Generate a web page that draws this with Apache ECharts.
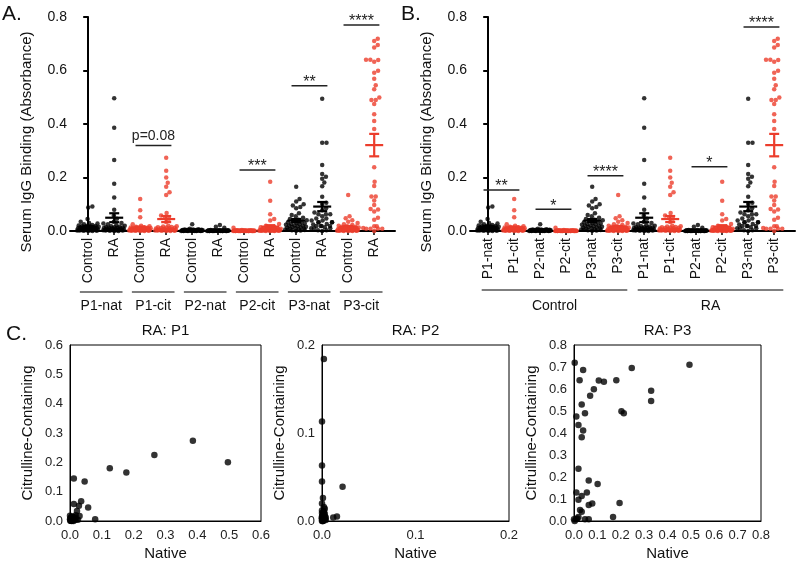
<!DOCTYPE html>
<html><head><meta charset="utf-8">
<script src="https://cdn.jsdelivr.net/npm/echarts@6/dist/echarts.min.js"></script>
<style>html,body{margin:0;padding:0;background:#fff}#c{width:800px;height:568px}</style>
</head><body><div id="c"></div>
<script>
const FONT = '"Liberation Sans", Arial, Helvetica, sans-serif';
const RED = '#ec3d2c', BLACK = '#000';

// ---- data (absorbance) ----
const ctrlP1nat = [0.092,0.088,0.045,0.035,0.03,0.028,0.025,0.022,0.02,0.018,0.017,0.015,0.014,0.013,0.012,0.011,0.01,0.01,0.009,0.008,0.008,0.007,0.006,0.006,0.005,0.005,0.004,0.004,0.003,0.003,0.002,0.002,0.001,0.001,0,0,0.012,0.016,0.019,0.021];
const ctrlP1cit = [0.12,0.078,0.051,0.025,0.02,0.018,0.016,0.014,0.013,0.012,0.011,0.01,0.009,0.009,0.008,0.008,0.007,0.007,0.006,0.006,0.005,0.005,0.005,0.004,0.004,0.004,0.003,0.003,0.003,0.002,0.002,0.002,0.001,0.001,0.001,0,0,0.006,0.01,0.012];
const ctrlP2nat = [0.025,0.008,0.007,0.006,0.005,0.005,0.004,0.004,0.004,0.003,0.003,0.003,0.003,0.002,0.002,0.002,0.002,0.002,0.001,0.001,0.001,0.001,0.001,0.001,0,0,0,0,0,0,0.002,0.003,0.004,0.001,0.002,0.006,0.003,0.001,0,0.002];
const ctrlP2cit = [0.012,0.004,0.003,0.003,0.002,0.002,0.002,0.001,0.001,0.001,0.001,0.001,0.001,0,0,0,0,0,0,0,0,0,0.001,0.002,0,0.001,0,0.002,0.001,0,0.003,0.001,0,0.002,0.001,0,0.001,0,0.002,0.001];
const ctrlP3nat = [0.165,0.12,0.11,0.10,0.095,0.09,0.085,0.066,0.06,0.055,0.05,0.045,0.042,0.04,0.038,0.035,0.033,0.03,0.028,0.026,0.025,0.023,0.021,0.02,0.018,0.016,0.015,0.013,0.012,0.01,0.009,0.008,0.007,0.006,0.005,0.004,0.003,0.002,0.001,0.02];
const ctrlP3cit = [0.135,0.055,0.048,0.04,0.035,0.03,0.025,0.022,0.02,0.018,0.016,0.015,0.014,0.013,0.012,0.011,0.01,0.01,0.009,0.008,0.008,0.007,0.006,0.006,0.005,0.005,0.004,0.004,0.003,0.003,0.003,0.002,0.002,0.002,0.001,0.001,0.001,0,0,0];
// RA subjects: native and citrulline-containing values are paired (same order)
const raP1nat = [0.496,0.386,0.265,0.177,0.125,0.046,0.012,0.012,0.057,0.022,0.030,0.015,0.010,0.005,0.079,0.008,0.003,0.006,0.002,0.004,0.014,0.009,0.018,0.025,0.007,0.001,0.0,0.011,0.016,0.003,0.005,0.020,0.002,0.006,0.009,0.0,0.004,0.013,0.035,0.028];
const raP1cit = [0.200,0.274,0.225,0.165,0.180,0.135,0.145,0.058,0.046,0.034,0.017,0.014,0.008,0.0,0.006,0.012,0.005,0.003,0.010,0.002,0.003,0.007,0.020,0.004,0.015,0.001,0.006,0.0,0.009,0.011,0.003,0.005,0.002,0.013,0.004,0.018,0.001,0.006,0.067,0.052];
const raP2nat = [0.002,0.0,0.0,0.0,0.001,0.002,0.003,0.022,0.016,0.012,0.002,0.003,0.001,0.0,0.004,0.001,0.002,0,0.001,0.003,0.0,0.001,0.002,0.0,0.001,0.0,0.002,0.004,0.001,0.0,0.003,0.001,0.0,0.002,0.001,0.0,0.001,0.002,0.0,0.001];
const raP2cit = [0.184,0.113,0.063,0.045,0.026,0.016,0.014,0.039,0.005,0.004,0.010,0.008,0.006,0.012,0.004,0.003,0.002,0.02,0.007,0.005,0.003,0.002,0.001,0.009,0.006,0.004,0.002,0.001,0.0,0.003,0.002,0.001,0.0,0.011,0.008,0.005,0.003,0.002,0.001,0.0];
const raP3nat = [0.003,0.039,0.024,0.106,0.128,0.181,0.247,0.494,0.330,0.330,0.085,0.069,0.033,0.203,0.213,0.047,0.010,0.019,0.039,0.033,0.019,0.063,0.101,0.010,0.055,0.033,0.019,0.078,0.063,0.195,0.026,0.033,0.167,0.0,0.010,0.019,0.047,0.063,0.003,0.014];
const raP3cit = [0.719,0.686,0.640,0.639,0.633,0.640,0.695,0.710,0.592,0.545,0.599,0.569,0.530,0.499,0.490,0.490,0.475,0.436,0.411,0.381,0.238,0.184,0.168,0.129,0.129,0.114,0.097,0.080,0.073,0.082,0.050,0.042,0.018,0.008,0.008,0.018,0.008,0.008,0.0,0.011];

// ---- categories / labels ----
const panelACats = ['Control','RA','Control','RA','Control','RA','Control','RA','Control','RA','Control','RA'];
const panelAGroups = ['P1-nat','P1-cit','P2-nat','P2-cit','P3-nat','P3-cit'];
const panelBCats = ['P1-nat','P1-cit','P2-nat','P2-cit','P3-nat','P3-cit','P1-nat','P1-cit','P2-nat','P2-cit','P3-nat','P3-cit'];
const panelBGroups = ['Control','RA'];
const sigALeft = [2, 6, 8, 10];
const sigALevel = [0.32, 0.228, 0.543, 0.77];
const sigALabel = ['p=0.08', '***', '**', '****'];
const sigBLeft = [0, 2, 4, 8, 10];
const sigBLevel = [0.153, 0.081, 0.207, 0.24, 0.763];
const sigBLabel = ['**', '*', '****', '*', '****'];
const cTitles = ['RA: P1', 'RA: P2', 'RA: P3'];
const cMax = [0.6, 0.2, 0.8];

const colsA = [ctrlP1nat, raP1nat, ctrlP1cit, raP1cit, ctrlP2nat, raP2nat, ctrlP2cit, raP2cit, ctrlP3nat, raP3nat, ctrlP3cit, raP3cit];
const colsB = [ctrlP1nat, ctrlP1cit, ctrlP2nat, ctrlP2cit, ctrlP3nat, ctrlP3cit, raP1nat, raP1cit, raP2nat, raP2cit, raP3nat, raP3cit];
const colorsA = colsA.map((c, i) => (Math.floor(i / 2) % 2 === 1) ? RED : BLACK);
const colorsB = colsB.map((c, i) => (i % 2 === 1) ? RED : BLACK);
const pairsC = [[raP1nat, raP1cit], [raP2nat, raP2cit], [raP3nat, raP3cit]];

function stats(v) {
  const n = v.length, m = v.reduce((a, b) => a + b, 0) / n;
  const sd = Math.sqrt(v.reduce((a, b) => a + (b - m) * (b - m), 0) / (n - 1));
  return [m, sd / Math.sqrt(n)];
}
const idx12 = [0,1,2,3,4,5,6,7,8,9,10,11];

function dotAxes(g, cats) {
  return {
    x: {gridIndex: g, type: 'value', min: -0.7, max: 11.8,
      axisLine: {show: true, onZero: false, lineStyle: {color: '#000', width: 2}},
      axisTick: {show: true, customValues: idx12, length: 4, lineStyle: {color: '#000', width: 1.5}},
      axisLabel: {customValues: idx12, formatter: v => cats[Math.round(v)], rotate: 90, fontSize: 14, color: '#111', margin: 7, fontFamily: FONT},
      splitLine: {show: false}},
    y: {gridIndex: g, type: 'value', min: 0, max: 0.8, interval: 0.2,
      axisLine: {show: true, lineStyle: {color: '#000', width: 2}},
      axisTick: {show: true, length: 5, lineStyle: {color: '#000', width: 2}},
      axisLabel: {formatter: v => v.toFixed(1), fontSize: 14, color: '#111', margin: 3, fontFamily: FONT},
      splitLine: {show: false}}
  };
}
function cAxes(g, max) {
  const lab = {formatter: v => v.toFixed(1), fontSize: 13, color: '#222', margin: 8, fontFamily: FONT};
  return {
    x: {gridIndex: g, type: 'value', min: 0, max: max, interval: 0.1, name: 'Native', nameLocation: 'middle', nameGap: 25,
      nameTextStyle: {fontSize: 15, color: '#111', fontFamily: FONT},
      axisLine: {show: true, onZero: false, lineStyle: {color: '#000', width: 1}}, axisTick: {show: false},
      axisLabel: lab, splitLine: {show: false}},
    y: {gridIndex: g, type: 'value', min: 0, max: max, interval: 0.1, name: 'Citrulline-Containing', nameLocation: 'middle', nameGap: 35,
      nameTextStyle: {fontSize: 15, color: '#111', fontFamily: FONT},
      axisLine: {show: true, lineStyle: {color: '#000', width: 1}}, axisTick: {show: false},
      axisLabel: Object.assign({}, lab, {margin: 7}), splitLine: {show: false}}
  };
}

const aA = dotAxes(0, panelACats), aB = dotAxes(1, panelBCats);
const c1 = cAxes(2, cMax[0]), c2 = cAxes(3, cMax[1]), c3 = cAxes(4, cMax[2]);

const series = [];
function dotSeries(g, cols, colors, prefix) {
  cols.forEach((vals, i) => {
    series.push({type: 'scatter', id: prefix + i, xAxisIndex: g, yAxisIndex: g, symbolSize: 4.5, clip: false, silent: true, z: 3,
      itemStyle: {color: colors[i]}, data: vals.map(v => ({value: [i, v]}))});
  });
  series.push({type: 'custom', xAxisIndex: g, yAxisIndex: g, z: 6, silent: true, clip: false,
    data: cols.map((vals, i) => { const s = stats(vals); return [i, s[0], s[1]]; }),
    renderItem: (params, api) => {
      const i = api.value(0), m = api.value(1), s = api.value(2);
      const c = api.coord([i, m]), t = api.coord([i, m + s]), b = api.coord([i, m - s]);
      const st = {stroke: colors[params.dataIndex], lineWidth: 2.2};
      return {type: 'group', children: [
        {type: 'line', shape: {x1: c[0] - 9, y1: c[1], x2: c[0] + 9, y2: c[1]}, style: st},
        {type: 'line', shape: {x1: t[0] - 5, y1: t[1], x2: t[0] + 5, y2: t[1]}, style: st},
        {type: 'line', shape: {x1: b[0] - 5, y1: b[1], x2: b[0] + 5, y2: b[1]}, style: st},
        {type: 'line', shape: {x1: t[0], y1: t[1], x2: b[0], y2: b[1]}, style: st}
      ]};
    }});
}
function sigSeries(g, lefts, levels, labels) {
  series.push({type: 'custom', xAxisIndex: g, yAxisIndex: g, z: 6, silent: true, clip: false,
    data: lefts.map((l, k) => [l - 0.18, l + 1.2, levels[k]]),
    renderItem: (params, api) => {
      const p1 = api.coord([api.value(0), api.value(2)]), p2 = api.coord([api.value(1), api.value(2)]);
      const lab = labels[params.dataIndex], isStar = lab.indexOf('*') === 0;
      return {type: 'group', children: [
        {type: 'line', shape: {x1: p1[0], y1: p1[1], x2: p2[0], y2: p2[1]}, style: {stroke: '#222', lineWidth: 1.5}},
        {type: 'text', x: (p1[0] + p2[0]) / 2, y: p1[1] - (isStar ? 3 : 9),
          style: {text: lab, fill: '#222', align: 'center', verticalAlign: 'middle', fontSize: isStar ? 16 : 14, fontFamily: FONT}}
      ]};
    }});
}
function groupSeries(g, ranges, labels, lineOff) {
  series.push({type: 'custom', xAxisIndex: g, yAxisIndex: g, z: 6, silent: true, clip: false,
    data: ranges,
    renderItem: (params, api) => {
      const p1 = api.coord([api.value(0), 0]), p2 = api.coord([api.value(1), 0]);
      return {type: 'group', children: [
        {type: 'line', shape: {x1: p1[0], y1: p1[1] + lineOff, x2: p2[0], y2: p2[1] + lineOff}, style: {stroke: '#555', lineWidth: 1.5}},
        {type: 'text', x: (p1[0] + p2[0]) / 2, y: p1[1] + 75,
          style: {text: labels[params.dataIndex], fill: '#111', align: 'center', verticalAlign: 'middle', fontSize: 14, fontFamily: FONT}}
      ]};
    }});
}
dotSeries(0, colsA, colorsA, 'A');
dotSeries(1, colsB, colorsB, 'B');
sigSeries(0, sigALeft, sigALevel, sigALabel);
sigSeries(1, sigBLeft, sigBLevel, sigBLabel);
groupSeries(0, panelAGroups.map((g, k) => [2 * k - 0.32, 2 * k + 1.32]), panelAGroups, 61);
groupSeries(1, [[-0.25, 5.35], [5.75, 11.35]], panelBGroups, 59);
pairsC.forEach((p, k) => {
  series.push({type: 'scatter', xAxisIndex: 2 + k, yAxisIndex: 2 + k, symbolSize: 6.5, clip: false, silent: true,
    itemStyle: {color: '#000'}, data: p[0].map((x, j) => [x, p[1][j]])});
});

const gridBox = {show: true, borderColor: '#000', borderWidth: 1, backgroundColor: 'transparent', outerBoundsMode: 'none'};
const option = {
  animation: false,
  backgroundColor: '#fff',
  textStyle: {fontFamily: FONT},
  title: cTitles.map((t, k) => ({text: t, left: [165.5, 415.5, 667.5][k], top: 323, textAlign: 'center', padding: 0,
    textStyle: {fontSize: 15, fontWeight: 'normal', color: '#111', fontFamily: FONT}})),
  grid: [
    {left: 70, top: 17, width: 325, height: 214, outerBoundsMode: 'none'},
    {left: 470, top: 17, width: 325, height: 214, outerBoundsMode: 'none'},
    Object.assign({left: 70, top: 345, width: 191, height: 176}, gridBox),
    Object.assign({left: 322, top: 345, width: 187, height: 176}, gridBox),
    Object.assign({left: 574, top: 345, width: 187, height: 176}, gridBox)
  ],
  xAxis: [aA.x, aB.x, c1.x, c2.x, c3.x],
  yAxis: [aA.y, aB.y, c1.y, c2.y, c3.y],
  series: series,
  graphic: [
    {type: 'text', x: 2, y: 4, style: {text: 'A.', fontSize: 21, fontFamily: FONT, fill: '#111'}},
    {type: 'text', x: 401, y: 4, style: {text: 'B.', fontSize: 21, fontFamily: FONT, fill: '#111'}},
    {type: 'text', x: 6, y: 324, style: {text: 'C.', fontSize: 21, fontFamily: FONT, fill: '#111'}},
    {type: 'text', x: 27, y: 142, rotation: Math.PI / 2, style: {text: 'Serum IgG Binding (Absorbance)', fontSize: 15, fontFamily: FONT, fill: '#111', align: 'center', verticalAlign: 'middle'}},
    {type: 'text', x: 427, y: 142, rotation: Math.PI / 2, style: {text: 'Serum IgG Binding (Absorbance)', fontSize: 15, fontFamily: FONT, fill: '#111', align: 'center', verticalAlign: 'middle'}}
  ]
};
const chart = echarts.init(document.getElementById('c'));
chart.setOption(option);

// beeswarm horizontal offsets computed from pixel positions given by the y scale
function swarm(ys, D, cap) {
  const order = ys.map((y, i) => i).sort((a, b) => ys[b] - ys[a]);
  const placed = [], off = new Array(ys.length).fill(0);
  let overflow = 0;
  order.forEach(i => {
    const y = ys[i];
    const near = placed.filter(p => Math.abs(p.y - y) < D);
    const cands = [0];
    near.forEach(p => { const dx = Math.sqrt(D * D - (p.y - y) * (p.y - y)); cands.push(p.x + dx, p.x - dx); });
    cands.sort((a, b) => Math.abs(a) - Math.abs(b));
    let chosen = null;
    for (const c of cands) {
      if (Math.abs(c) > cap + 0.01) break;
      if (near.every(p => (p.x - c) * (p.x - c) + (p.y - y) * (p.y - y) >= D * D - 0.05)) { chosen = c; break; }
    }
    if (chosen === null) { chosen = (((overflow * 0.618034) % 1) * 2 - 1) * cap; overflow++; }
    placed.push({x: chosen, y: y});
    off[i] = chosen;
  });
  return off;
}
const updates = [];
[[0, colsA, 'A'], [1, colsB, 'B']].forEach(([g, cols, prefix]) => {
  cols.forEach((vals, i) => {
    const ys = vals.map(v => chart.convertToPixel({gridIndex: g}, [i, v])[1]);
    const off = swarm(ys, 4.3, 11);
    updates.push({id: prefix + i, data: vals.map((v, k) => ({value: [i, v], symbolOffset: [off[k], 0]}))});
  });
});
chart.setOption({series: updates});
</script>
</body></html>
